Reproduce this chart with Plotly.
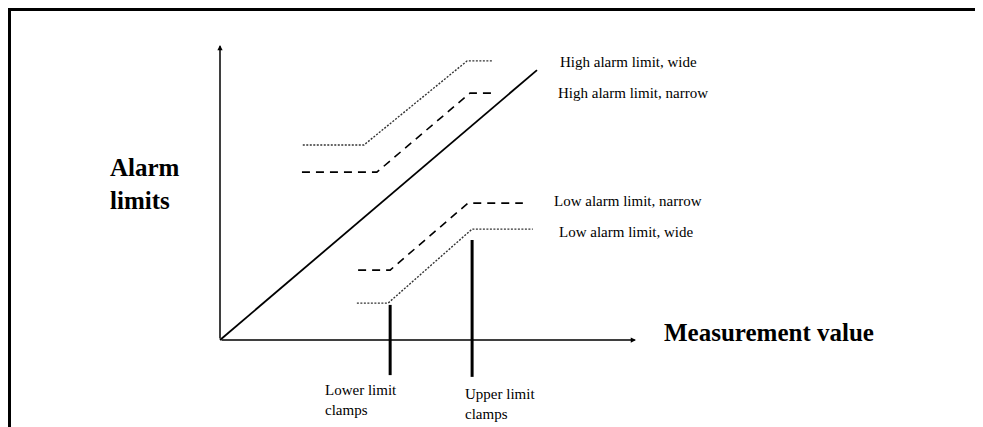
import plotly.graph_objects as go

# ---- data (abstract diagram units: x = measurement value, y = alarm limit) ----
diag_x = [0, 76.2]
diag_y = [0, 91.5]

high_wide_x = [19.9, 34.6, 59.4, 65.4]
high_wide_y = [66.1, 66.1, 94.6, 94.6]

high_narrow_x = [19.7, 37.7, 60.1, 66.3]
high_narrow_y = [56.9, 56.9, 83.7, 83.7]

low_narrow_x = [33.2, 40.9, 59.6, 72.8]
low_narrow_y = [23.7, 23.7, 46.4, 46.4]

low_wide_x = [32.9, 40.4, 60.6, 75.2]
low_wide_y = [12.5, 12.5, 37.6, 37.6]

clamp_lower_x = [40.9, 40.9]
clamp_lower_y = [11.9, -11.9]
clamp_upper_x = [60.6, 60.6]
clamp_upper_y = [33.9, -12.5]

series_labels = ["High alarm limit, wide", "High alarm limit, narrow",
                 "Low alarm limit, narrow", "Low alarm limit, wide"]
clamp_labels = ["Lower limit<br>clamps", "Upper limit<br>clamps"]
x_title = "Measurement value"
y_title = "Alarm limits"

FONT = "Liberation Serif"

fig = go.Figure()

def line(x, y, width, dash="solid", color="black"):
    fig.add_trace(go.Scatter(x=x, y=y, mode="lines",
                             line=dict(color=color, width=width, dash=dash),
                             hoverinfo="skip", showlegend=False))

line(diag_x, diag_y, 1.8)
line(high_wide_x, high_wide_y, 1.4, dash="2px,1.5px", color="#333")
line(high_narrow_x, high_narrow_y, 1.6, dash="8px,6px")
line(low_narrow_x, low_narrow_y, 1.6, dash="8px,6px")
line(low_wide_x, low_wide_y, 1.4, dash="2px,1.5px", color="#333")
line(clamp_lower_x, clamp_lower_y, 3)
line(clamp_upper_x, clamp_upper_y, 3)

ann = []
# axes with arrowheads
ann.append(dict(x=100, y=0, ax=0, ay=0, xref="x", yref="y", axref="x", ayref="y",
                text="", showarrow=True, arrowhead=2, arrowsize=0.7, arrowwidth=1.5,
                arrowcolor="black"))
ann.append(dict(x=0, y=100, ax=0, ay=0, xref="x", yref="y", axref="x", ayref="y",
                text="", showarrow=True, arrowhead=2, arrowsize=0.7, arrowwidth=1.5,
                arrowcolor="black"))

label_pos = [(81.25, 94.2), (80.8, 83.7), (79.8, 47.1), (81.0, 36.6)]
for (lx, ly), t in zip(label_pos, series_labels):
    ann.append(dict(x=lx, y=ly, xref="x", yref="y", text=t, showarrow=False,
                    xanchor="left", yanchor="middle",
                    font=dict(family=FONT, size=15, color="black")))

clamp_pos = [(24.76, -20.3), (58.4, -21.6)]
for (lx, ly), t in zip(clamp_pos, clamp_labels):
    ann.append(dict(x=lx, y=ly, xref="x", yref="y", text=t, showarrow=False,
                    xanchor="left", yanchor="middle", align="left",
                    font=dict(family=FONT, size=15, color="black")))

ann.append(dict(x=106.25, y=2.7, xref="x", yref="y", text="<b>%s</b>" % x_title,
                showarrow=False, xanchor="left", yanchor="middle",
                font=dict(family=FONT, size=25, color="black")))
ann.append(dict(x=-26.9, y=53.0, xref="x", yref="y",
                text="<b>%s</b>" % y_title.replace(" ", "<br>"),
                showarrow=False, xanchor="left", yanchor="middle", align="left",
                font=dict(family=FONT, size=25, color="black")))

fig.update_layout(
    width=975, height=419, autosize=False,
    margin=dict(l=0, r=0, t=0, b=0, pad=0),
    paper_bgcolor="white", plot_bgcolor="white",
    xaxis=dict(range=[-50.96, 183.41], visible=False, fixedrange=True),
    yaxis=dict(range=[-29.49, 112.54], visible=False, fixedrange=True),
    annotations=ann,
    shapes=[
        dict(type="line", xref="paper", yref="paper", x0=0.0, x1=1.0,
             y0=1 - 1.5 / 419, y1=1 - 1.5 / 419, line=dict(color="black", width=3)),
        dict(type="line", xref="paper", yref="paper", x0=1.5 / 975, x1=1.5 / 975,
             y0=0, y1=1.0, line=dict(color="black", width=3)),
    ],
)

fig.write_html("out.html")
